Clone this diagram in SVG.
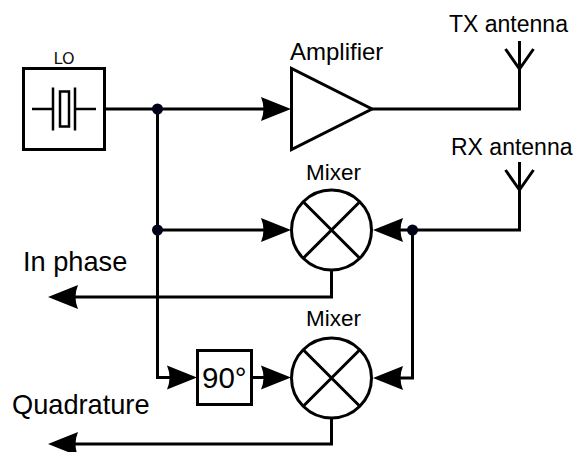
<svg xmlns="http://www.w3.org/2000/svg" width="575" height="452" viewBox="0 0 575 452">
<style>
.l{fill:none;stroke:#000;stroke-width:3;stroke-linejoin:miter}
.thin{stroke-width:2.500}
.t{font-family:"Liberation Sans",Arial,sans-serif;fill:#000}
.lo{font-family:"DejaVu Sans",sans-serif;fill:#111}
.ah{fill:#000;stroke:none}
.dot{fill:#000018;stroke:none}
</style>
<defs>
<path id="ar" class="ah" d="M0 0L-30 -12Q-25 0 -30 12Z"/>
<g id="mixer"><circle class="l" r="40"/><path class="l" d="M-28.300 -28.300L28.300 28.300M-28.300 28.300L28.300 -28.300"/></g>
<path id="ant" class="l" d="M0 -28V0M-14 -20L0 0L14 -20"/>
</defs>
<rect width="575" height="452" fill="#fff"/>
<g id="connectors">
<path class="l" d="M104 109H272M157.500 109V377.500H178"/>
<path class="l" d="M157.500 230H272"/>
<path class="l" d="M372 109H519.500V69"/>
<path class="l" d="M519.500 190V230H392"/>
<path class="l" d="M412.500 230V378H392"/>
<path class="l" d="M331.500 270V297H66"/>
<path class="l" d="M331.500 418V444H66"/>
<path class="l" d="M251 377.500H272"/>
<use href="#ar" transform="translate(291 109)"/>
<use href="#ar" transform="translate(291 230)"/>
<use href="#ar" transform="translate(197 377.500)"/>
<use href="#ar" transform="translate(291 377.500)"/>
<use href="#ar" transform="translate(373 230) rotate(180)"/>
<use href="#ar" transform="translate(373 378) rotate(180)"/>
<use href="#ar" transform="translate(48 297) rotate(180)"/>
<use href="#ar" transform="translate(48 444) rotate(180)"/>
<circle class="dot" cx="157.500" cy="109" r="5.500"/>
<circle class="dot" cx="157.500" cy="230" r="5.500"/>
<circle class="dot" cx="412.500" cy="230" r="5.500"/>
</g>
<g id="lo">
<rect class="l" x="23.500" y="68.500" width="81" height="81"/>
<path class="l thin" d="M32 109H53M53 87.500V130.500M75 87.500V130.500M75 109H96"/>
<rect class="l thin" x="60" y="91.500" width="9" height="35"/>
<text class="lo" x="64" y="64" text-anchor="middle" font-size="16">LO</text>
</g>
<g id="amplifier">
<path class="l" d="M291.500 68.500V149.500L372 109Z"/>
<text class="t" x="290" y="60" font-size="24">Amplifier</text>
</g>
<g id="tx-antenna">
<use href="#ant" transform="translate(519.500 69)"/>
<text class="t" x="449" y="32" font-size="23">TX antenna</text>
</g>
<g id="rx-antenna">
<use href="#ant" transform="translate(519.500 190)"/>
<text class="t" x="451" y="155" font-size="23">RX antenna</text>
</g>
<g id="mixer-1">
<use href="#mixer" transform="translate(331.500 230)"/>
<text class="t" x="306" y="180" font-size="22.500">Mixer</text>
</g>
<g id="mixer-2">
<use href="#mixer" transform="translate(331.500 378)"/>
<text class="t" x="306" y="326" font-size="22.500">Mixer</text>
</g>
<g id="phase-shifter">
<rect class="l" x="197.500" y="350.500" width="54" height="54"/>
<text class="t" x="202" y="388" font-size="29.500">90°</text>
</g>
<text class="t" id="in-phase" x="23" y="271" font-size="27.200">In phase</text>
<text class="t" id="quadrature" x="12" y="414" font-size="27.200">Quadrature</text>
</svg>
